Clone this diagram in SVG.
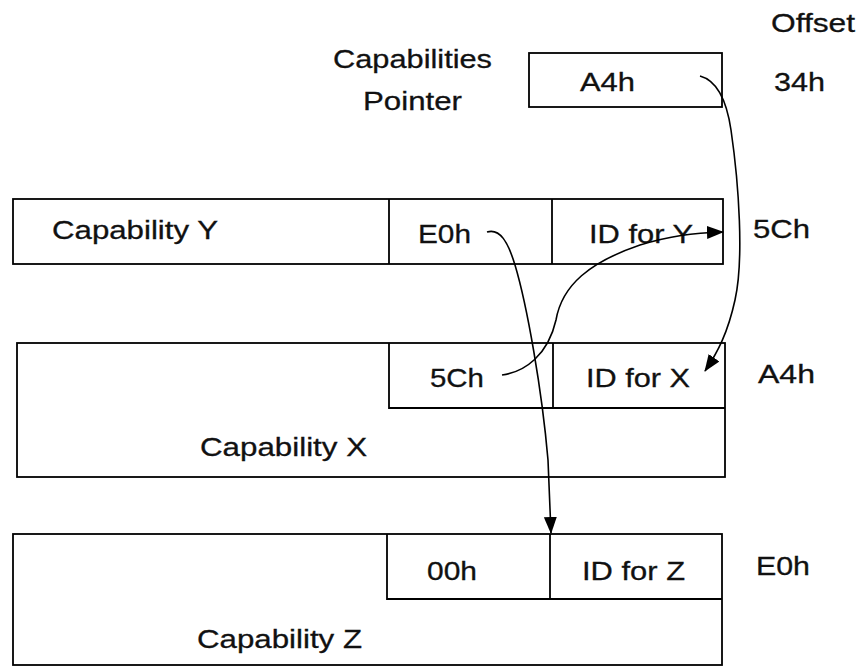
<svg xmlns="http://www.w3.org/2000/svg" width="860" height="668" viewBox="0 0 860 668">
<style>
  .box { fill: none; stroke: #000; stroke-width: 1.8; }
  .ln { fill: none; stroke: #000; stroke-width: 1.8; }
  .con { fill: none; stroke: #000; stroke-width: 1.6; }
  text { font-family: "Liberation Sans", Arial, sans-serif; font-size: 26px; fill: #111; stroke: #111; stroke-width: 0.3; }
</style>
<defs>
  <marker id="arrow" markerUnits="userSpaceOnUse" markerWidth="18" markerHeight="14" refX="16" refY="6.5" orient="auto">
    <path d="M0,0 L17,6.5 L0,13 Z" fill="#000"/>
  </marker>
</defs>
<rect width="860" height="668" fill="#fff"/>

<g id="labels">
  <text x="771" y="32" textLength="84" lengthAdjust="spacingAndGlyphs">Offset</text>
  <text x="774" y="91" textLength="51" lengthAdjust="spacingAndGlyphs">34h</text>
  <text x="753" y="238" textLength="57" lengthAdjust="spacingAndGlyphs">5Ch</text>
  <text x="758" y="383" textLength="57" lengthAdjust="spacingAndGlyphs">A4h</text>
  <text x="756" y="575" textLength="54" lengthAdjust="spacingAndGlyphs">E0h</text>
  <text x="333" y="68" textLength="159" lengthAdjust="spacingAndGlyphs">Capabilities</text>
  <text x="363" y="110" textLength="99" lengthAdjust="spacingAndGlyphs">Pointer</text>
</g>

<g id="pointer">
  <rect class="box" x="529" y="53" width="193" height="54"/>
  <text x="580" y="91" textLength="55" lengthAdjust="spacingAndGlyphs">A4h</text>
</g>

<g id="capY">
  <rect class="box" x="13" y="199" width="710" height="65"/>
  <line class="ln" x1="389" y1="199" x2="389" y2="264"/>
  <line class="ln" x1="552" y1="199" x2="552" y2="264"/>
  <text x="52" y="239" textLength="166" lengthAdjust="spacingAndGlyphs">Capability Y</text>
  <text x="418" y="243" textLength="53" lengthAdjust="spacingAndGlyphs">E0h</text>
  <text x="589" y="243" textLength="104" lengthAdjust="spacingAndGlyphs">ID for Y</text>
</g>

<g id="capX">
  <rect class="box" x="17" y="343" width="708" height="134"/>
  <polyline class="ln" points="389,343 389,408 725,408"/>
  <line class="ln" x1="553" y1="343" x2="553" y2="408"/>
  <text x="430" y="387" textLength="54" lengthAdjust="spacingAndGlyphs">5Ch</text>
  <text x="586" y="387" textLength="104" lengthAdjust="spacingAndGlyphs">ID for X</text>
  <text x="200" y="456" textLength="167" lengthAdjust="spacingAndGlyphs">Capability X</text>
</g>

<g id="capZ">
  <rect class="box" x="13" y="534" width="709" height="131"/>
  <polyline class="ln" points="387,534 387,599 722,599"/>
  <line class="ln" x1="550" y1="534" x2="550" y2="599"/>
  <text x="427" y="580" textLength="50" lengthAdjust="spacingAndGlyphs">00h</text>
  <text x="582" y="580" textLength="103" lengthAdjust="spacingAndGlyphs">ID for Z</text>
  <text x="197" y="648" textLength="165" lengthAdjust="spacingAndGlyphs">Capability Z</text>
</g>

<g id="connectors">
  <path class="con" marker-end="url(#arrow)" d="M700,76 C715,80 726,96 731,130 C739,185 744,260 735,300 C728,332 718,352 705,371"/>
  <path class="con" marker-end="url(#arrow)" d="M487,232 C500,228 508,242 515,265 C527,305 542,390 548,460 L551,533"/>
  <path class="con" marker-end="url(#arrow)" d="M502,375 C525,372 548,355 556,320 C562,285 590,262 640,245 C670,236 692,233 723,232"/>
</g>
</svg>
